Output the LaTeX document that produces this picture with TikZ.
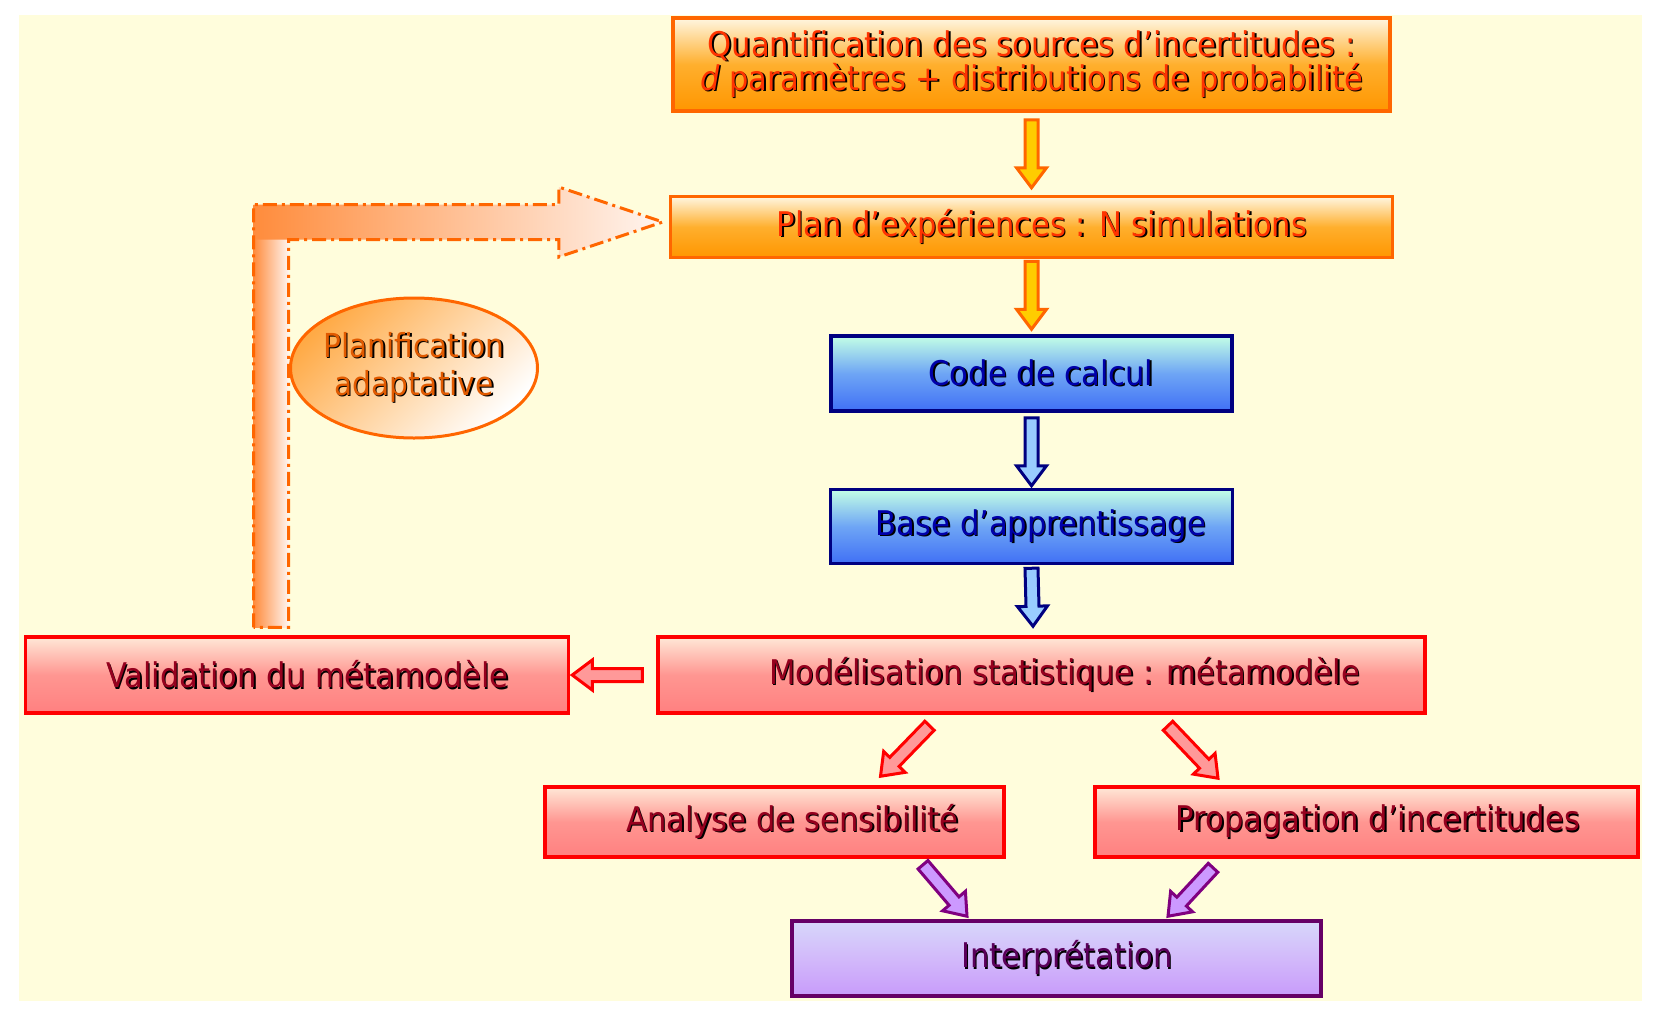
\documentclass[tikz,border=0pt]{standalone}
\usepackage{fontspec}
\setmainfont{DejaVu Sans Condensed}
\usetikzlibrary{positioning,calc,shapes.geometric}

\definecolor{bgyellow}{RGB}{255,253,220}
\definecolor{borange}{RGB}{255,102,0}
\definecolor{torange}{RGB}{255,51,0}
\definecolor{ocream}{RGB}{255,246,225}
\definecolor{omid}{RGB}{255,175,45}
\definecolor{obottom}{RGB}{255,150,0}
\definecolor{yarrow}{RGB}{255,204,0}
\definecolor{bnavy}{RGB}{0,0,128}
\definecolor{tblue}{RGB}{0,0,170}
\definecolor{bmint}{RGB}{195,255,230}
\definecolor{bmid}{RGB}{110,165,245}
\definecolor{bbottom}{RGB}{64,112,245}
\definecolor{lblue}{RGB}{153,204,255}
\definecolor{bred}{RGB}{255,0,0}
\definecolor{tred}{RGB}{150,0,30}
\definecolor{rtop}{RGB}{255,232,215}
\definecolor{rmid}{RGB}{255,150,145}
\definecolor{rbottom}{RGB}{255,128,128}
\definecolor{pinkarrow}{RGB}{255,153,153}
\definecolor{bpurple}{RGB}{102,0,102}
\definecolor{tpurple}{RGB}{90,0,90}
\definecolor{ptop}{RGB}{215,215,250}
\definecolor{pmid}{RGB}{210,185,250}
\definecolor{pbottom}{RGB}{200,155,250}
\definecolor{lpurple}{RGB}{204,153,255}
\definecolor{apurple}{RGB}{128,0,128}
\definecolor{tplanif}{RGB}{225,90,0}
\definecolor{eorange}{RGB}{255,170,70}
\definecolor{fborange}{RGB}{255,140,60}
\definecolor{fbwhite}{RGB}{255,245,240}

% text with a dark drop shadow
\newcommand{\shd}[1]{\makebox[0pt][l]{\hspace{1.5pt}\raisebox{-1.5pt}{\color{black}#1}}#1}

% outlined block arrow between two points
\newcommand{\fatarrow}[3][]{%
  \coordinate (fa-s) at (#2);
  \coordinate (fa-e) at (#3);
  \coordinate (fa-h) at ($(fa-e)!20pt!(fa-s)$);
  \filldraw[line width=3pt, line join=miter, #1]
    ($(fa-s)!6.5pt!90:(fa-e)$) -- ($(fa-h)!6.5pt!90:(fa-e)$) -- ($(fa-h)!15pt!90:(fa-e)$)
    -- (fa-e) -- ($(fa-h)!15pt!-90:(fa-e)$) -- ($(fa-h)!6.5pt!-90:(fa-e)$)
    -- ($(fa-s)!6.5pt!-90:(fa-e)$) -- cycle;}

\begin{document}
\begin{tikzpicture}[x=1pt, y=-1pt,
    box/.style={draw, rectangle, line width=3.5pt, inner sep=0pt, align=center,
      font=\fontsize{34}{33}\selectfont},
    pad/.style={execute at begin node={\hspace*{#1}}},
    orangebox/.style={box, draw=borange, text=torange,
      top color=ocream, bottom color=obottom, middle color=omid},
    bluebox/.style={box, draw=bnavy, text=tblue,
      top color=bmint, bottom color=bbottom, middle color=bmid},
    redbox/.style={box, draw=bred, text=tred,
      top color=rtop, bottom color=rbottom, middle color=rmid},
    purplebox/.style={box, draw=bpurple, text=tpurple,
      top color=ptop, bottom color=pbottom, middle color=pmid},
    orangearrow/.style={draw=borange, fill=yarrow},
    bluearrow/.style={draw=bnavy, fill=lblue},
    redarrow/.style={draw=bred, fill=pinkarrow},
    purplearrow/.style={draw=apurple, fill=lpurple},
    feedback/.style={draw=borange, line width=3pt,
      dash pattern={on 14pt off 5pt on 3pt off 5pt}}]
    \useasboundingbox (0,0) rectangle (1659,1009);
    \fill[bgyellow] (19,15) rectangle (1642,1001);

    % main chain
    \node[orangebox, minimum width=717pt, minimum height=93pt] (quant) at (1031.5,64.5)
      {\shd{Quantification des sources d’incertitudes :}\\
       \shd{\textit{d} paramètres + distributions de probabilité}};
    \node[orangebox, pad=21pt, minimum width=722pt, minimum height=61pt, below=82pt of quant] (plan)
      {\shd{Plan d’expériences : N simulations}};
    \node[bluebox, pad=19pt, minimum width=401pt, minimum height=75pt, below=75pt of plan] (code)
      {\shd{Code de calcul}};
    \node[bluebox, pad=19pt, minimum width=402pt, minimum height=74pt, below=75pt of code] (base)
      {\shd{Base d’apprentissage}};
    \node[redbox, pad=46pt, minimum width=767pt, minimum height=76pt] (modele) at (1041.5,675)
      {\shd{Modélisation statistique : métamodèle}};
    \node[redbox, pad=21pt, minimum width=543pt, minimum height=76pt, left=86pt of modele] (valid)
      {\shd{Validation du métamodèle}};
    \node[redbox, pad=36pt, minimum width=459pt, minimum height=70pt] (analyse) at (774.5,822)
      {\shd{Analyse de sensibilité}};
    \node[redbox, pad=23pt, minimum width=543pt, minimum height=70pt] (propag) at (1366.5,822)
      {\shd{Propagation d’incertitudes}};
    \node[purplebox, pad=21pt, minimum width=529pt, minimum height=75pt] (interp) at (1056.5,958.5)
      {\shd{Interprétation}};

    % adaptive loop
    \coordinate (fb-s) at ([xshift=-26pt, yshift=8pt]valid.north);
    \coordinate (fb-e) at ([xshift=-6pt, yshift=5pt]plan.west);
    \shade[left color=fborange, right color=fbwhite]
      let \p1=(fb-s), \p2=(fb-e) in
      (\x1-17.5pt,\y1) rectangle (\x1+17.5pt,\y2-17.5pt);
    \shade[left color=fborange, right color=fbwhite]
      let \p1=(fb-s), \p2=(fb-e) in
      (\x1-17.5pt,\y2-17.5pt) -- (\x1-17.5pt,\y2+17.5pt) -- (\x2-104pt,\y2+17.5pt)
      -- (\x2-104pt,\y2+35pt) -- (\x2,\y2) -- (\x2-104pt,\y2-35pt)
      -- (\x2-104pt,\y2-17.5pt) -- cycle;
    \draw[feedback] let \p1=(fb-s), \p2=(fb-e) in
      (\x1-17.5pt,\y1) -- (\x1-17.5pt,\y2+17.5pt) -- (\x2-104pt,\y2+17.5pt)
      -- (\x2-104pt,\y2+35pt) -- (\x2,\y2) -- (\x2-104pt,\y2-35pt)
      -- (\x2-104pt,\y2-17.5pt) -- (\x1+17.5pt,\y2-17.5pt) -- (\x1+17.5pt,\y1) -- cycle;
    \node[ellipse, draw=borange, line width=3pt, text=tplanif, inner xsep=-8pt, inner ysep=0pt,
      minimum width=247pt, minimum height=140pt, align=center,
      top color=eorange, bottom color=white, shading angle=45,
      font=\fontsize{33}{38}\selectfont] (planif) at (414,368)
      {\shd{Planification}\\\shd{adaptative}};

    % connectors
    \fatarrow[orangearrow]{[yshift=-7pt]quant.south}{[yshift=7pt]plan.north}
    \fatarrow[orangearrow]{[yshift=-2pt]plan.south}{[yshift=5pt]code.north}
    \fatarrow[bluearrow]{[yshift=-5pt]code.south}{[yshift=2pt]base.north}
    \fatarrow[bluearrow]{[yshift=-3pt]base.south}{[xshift=-8.5pt, yshift=9pt]modele.north}
    \fatarrow[redarrow]{[xshift=-14pt]modele.west}{[xshift=2pt]valid.east}
    \fatarrow[redarrow]{[xshift=-112pt, yshift=-11pt]modele.south}{[xshift=106pt, yshift=9pt]analyse.north}
    \fatarrow[redarrow]{[xshift=126.5pt, yshift=-11pt]modele.south}{[xshift=-148.5pt, yshift=7pt]propag.north}
    \fatarrow[purplearrow]{[xshift=148.5pt, yshift=-6pt]analyse.south}{[xshift=-89.5pt, yshift=3pt]interp.north}
    \fatarrow[purplearrow]{[xshift=-153.5pt, yshift=-9pt]propag.south}{[xshift=111.5pt, yshift=3pt]interp.north}
\end{tikzpicture}
\end{document}
